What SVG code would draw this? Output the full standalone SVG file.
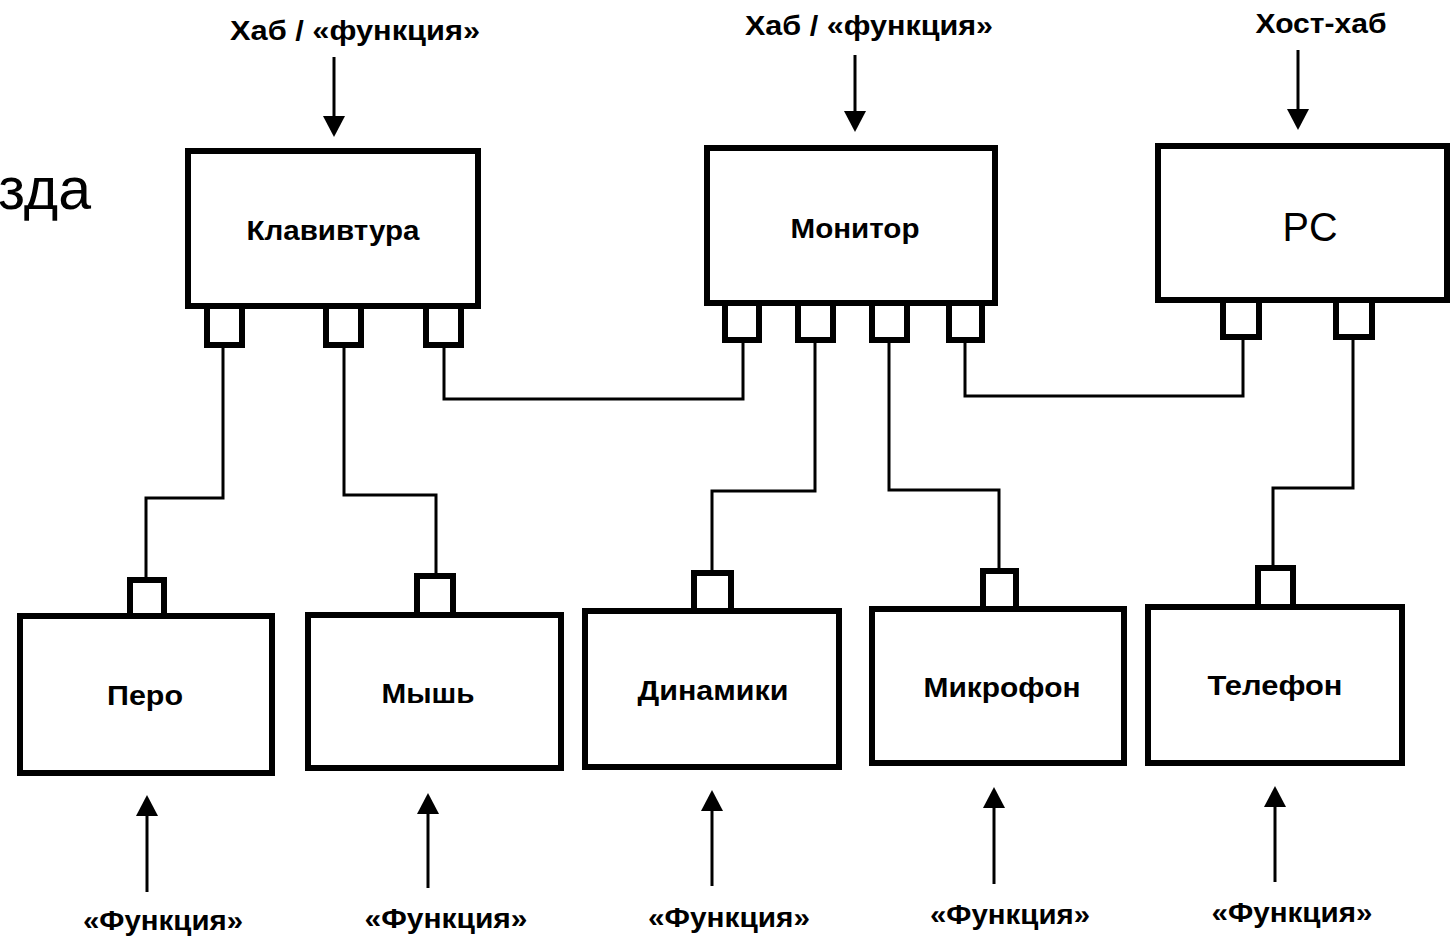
<svg xmlns="http://www.w3.org/2000/svg" width="1456" height="937" viewBox="0 0 1456 937">
<style>
.box{fill:#fff;stroke:#000;stroke-width:6}
.port{fill:#fff;stroke:#000;stroke-width:6}
.wire{fill:none;stroke:#000;stroke-width:3;stroke-linejoin:miter}
.arr{fill:none;stroke:#000;stroke-width:3;marker-end:url(#ah)}
.lbl{font-family:"Liberation Sans",Arial,sans-serif;font-weight:bold;font-size:28px;fill:#000;text-anchor:middle}
.big{font-family:"Liberation Sans",Arial,sans-serif;font-size:40px;fill:#000;text-anchor:middle}
</style>
<defs>
<marker id="ah" viewBox="0 0 21 22" markerWidth="21" markerHeight="22" markerUnits="userSpaceOnUse" refX="10" refY="11" orient="auto">
<path d="M0,0 L21,11 L0,22 Z" fill="#000"/>
</marker>
</defs>
<rect width="1456" height="937" fill="#fff"/>
<text x="-2" y="209" font-family="Liberation Sans, Arial, sans-serif" font-size="59" fill="#000">зда</text>

<g id="connectors">
<path class="wire" d="M223,346 V498 H146 V578"/>
<path class="wire" d="M344,346 V495 H436 V575"/>
<path class="wire" d="M444,346 V399 H743 V341"/>
<path class="wire" d="M815,341 V491 H712 V572"/>
<path class="wire" d="M889,341 V490 H999 V570"/>
<path class="wire" d="M965,341 V396 H1243 V338"/>
<path class="wire" d="M1353,338 V488 H1273 V567"/>
<line class="arr" x1="334" y1="57" x2="334" y2="126"/>
<line class="arr" x1="855" y1="55" x2="855" y2="121"/>
<line class="arr" x1="1298" y1="50" x2="1298" y2="119"/>
<line class="arr" x1="147" y1="892" x2="147" y2="806"/>
<line class="arr" x1="428" y1="888" x2="428" y2="804"/>
<line class="arr" x1="712" y1="886" x2="712" y2="801"/>
<line class="arr" x1="994" y1="884" x2="994" y2="798"/>
<line class="arr" x1="1275" y1="882" x2="1275" y2="797"/>
</g>

<g id="label-kbd-top"><text class="lbl" x="355" y="40" textLength="250" lengthAdjust="spacingAndGlyphs">Хаб / «функция»</text></g>
<g id="label-mon-top"><text class="lbl" x="869" y="35" textLength="248" lengthAdjust="spacingAndGlyphs">Хаб / «функция»</text></g>
<g id="label-pc-top"><text class="lbl" x="1321" y="33" textLength="131" lengthAdjust="spacingAndGlyphs">Хост-хаб</text></g>

<g id="keyboard">
<rect class="port" x="207" y="306" width="35" height="39"/>
<rect class="port" x="326" y="306" width="35" height="39"/>
<rect class="port" x="426" y="306" width="35" height="39"/>
<rect class="box" x="188" y="151" width="290" height="155"/>
<text class="lbl" x="333" y="240" textLength="173" lengthAdjust="spacingAndGlyphs">Клавивтура</text>
</g>

<g id="monitor">
<rect class="port" x="725" y="303" width="34" height="37"/>
<rect class="port" x="798" y="303" width="35" height="37"/>
<rect class="port" x="872" y="303" width="35" height="37"/>
<rect class="port" x="949" y="303" width="33" height="37"/>
<rect class="box" x="707" y="148" width="288" height="155"/>
<text class="lbl" x="855" y="238" textLength="129" lengthAdjust="spacingAndGlyphs">Монитор</text>
</g>

<g id="pc">
<rect class="port" x="1223" y="300" width="36" height="37"/>
<rect class="port" x="1336" y="300" width="36" height="37"/>
<rect class="box" x="1158" y="146" width="289" height="154"/>
<text class="big" x="1310" y="241" textLength="55" lengthAdjust="spacingAndGlyphs">PC</text>
</g>

<g id="pen">
<rect class="port" x="130" y="580" width="34" height="36"/>
<rect class="box" x="20" y="616" width="252" height="157"/>
<text class="lbl" x="145" y="705" textLength="76" lengthAdjust="spacingAndGlyphs">Перо</text>
</g>

<g id="mouse">
<rect class="port" x="417" y="576" width="36" height="39"/>
<rect class="box" x="308" y="615" width="253" height="153"/>
<text class="lbl" x="428" y="703" textLength="93" lengthAdjust="spacingAndGlyphs">Мышь</text>
</g>

<g id="speakers">
<rect class="port" x="694" y="573" width="37" height="38"/>
<rect class="box" x="585" y="611" width="254" height="156"/>
<text class="lbl" x="713" y="700" textLength="151" lengthAdjust="spacingAndGlyphs">Динамики</text>
</g>

<g id="microphone">
<rect class="port" x="983" y="571" width="33" height="39"/>
<rect class="box" x="872" y="609" width="252" height="154"/>
<text class="lbl" x="1002" y="697" textLength="157" lengthAdjust="spacingAndGlyphs">Микрофон</text>
</g>

<g id="phone">
<rect class="port" x="1258" y="568" width="35" height="39"/>
<rect class="box" x="1148" y="607" width="254" height="156"/>
<text class="lbl" x="1275" y="695" textLength="135" lengthAdjust="spacingAndGlyphs">Телефон</text>
</g>

<g id="func-labels">
<text class="lbl" x="163" y="930" textLength="160" lengthAdjust="spacingAndGlyphs">«Функция»</text>
<text class="lbl" x="446" y="928" textLength="163" lengthAdjust="spacingAndGlyphs">«Функция»</text>
<text class="lbl" x="729" y="927" textLength="162" lengthAdjust="spacingAndGlyphs">«Функция»</text>
<text class="lbl" x="1010" y="924" textLength="160" lengthAdjust="spacingAndGlyphs">«Функция»</text>
<text class="lbl" x="1292" y="922" textLength="161" lengthAdjust="spacingAndGlyphs">«Функция»</text>
</g>
</svg>
